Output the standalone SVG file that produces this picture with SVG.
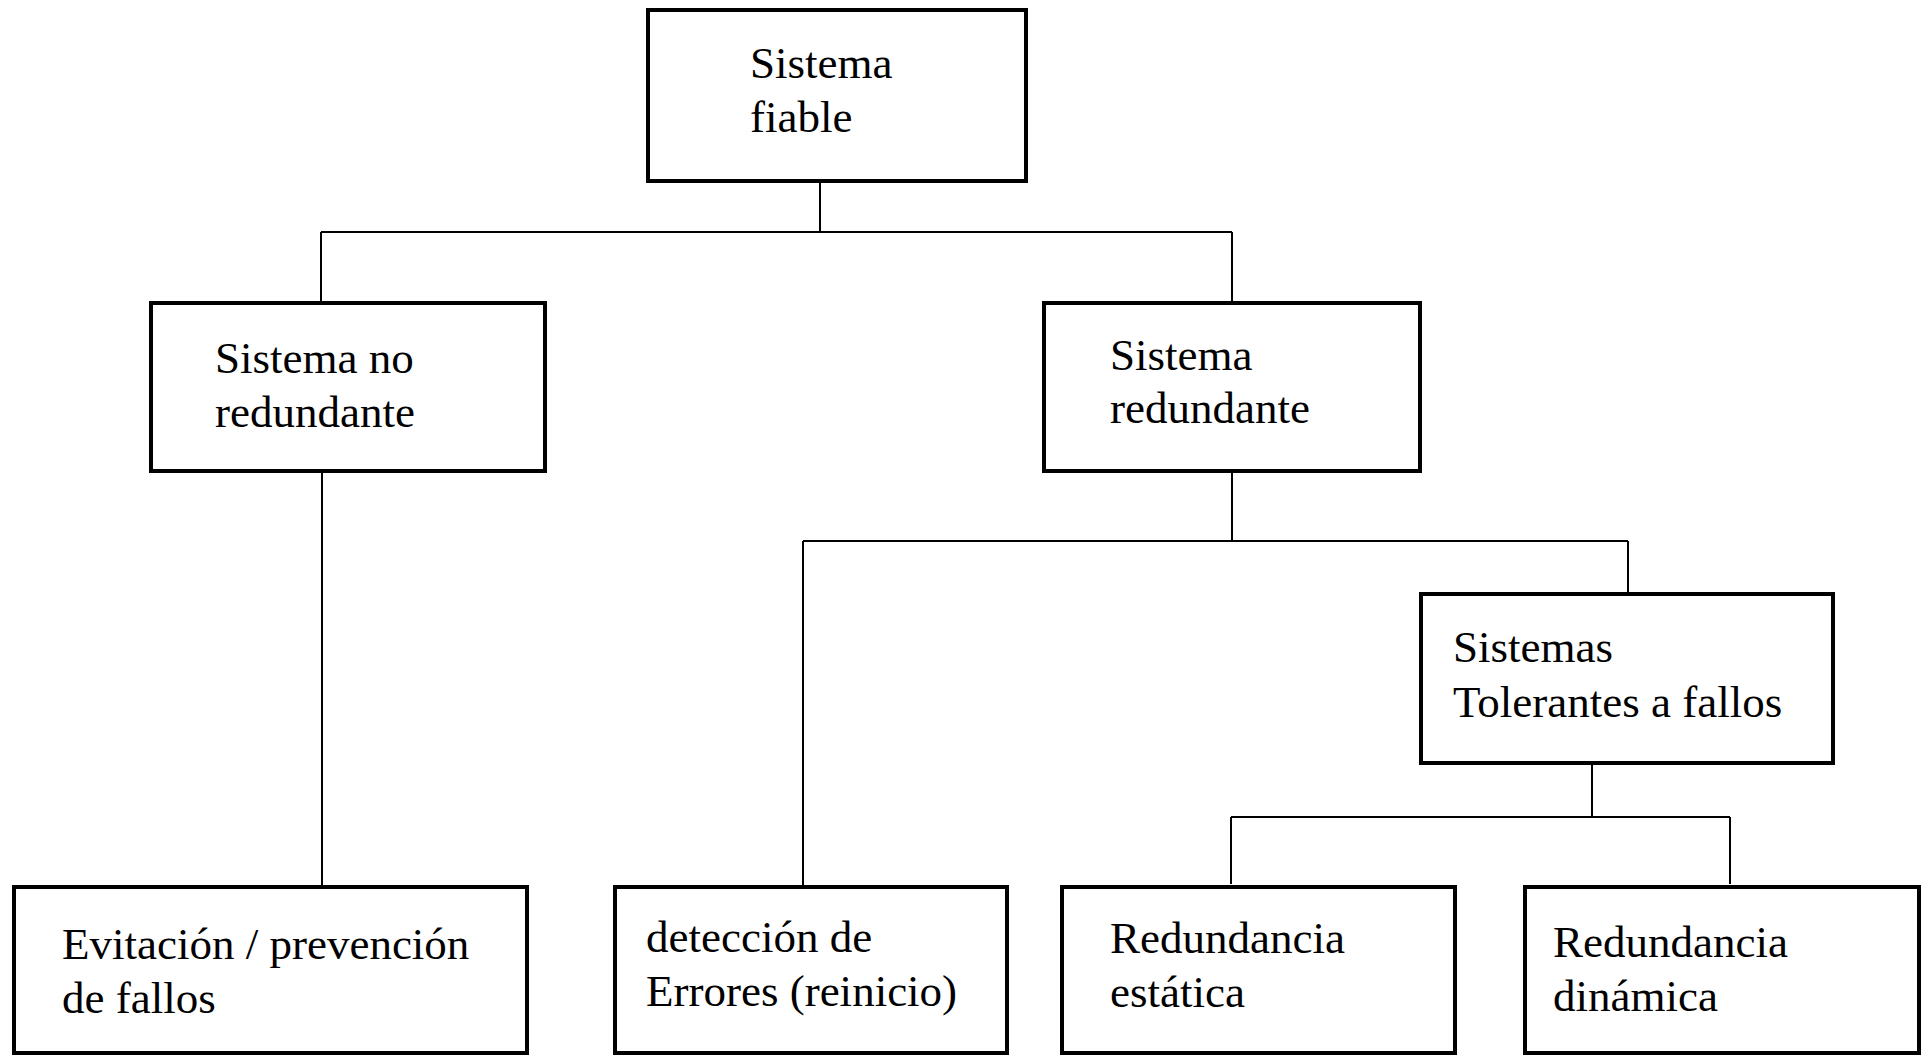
<svg xmlns="http://www.w3.org/2000/svg" width="1923" height="1056" viewBox="0 0 1923 1056">
  <style>
    .box { fill: #ffffff; stroke: #000000; stroke-width: 4; }
    .link { fill: none; stroke: #000000; stroke-width: 2; }
    .label { font-family: "Liberation Serif", "Times New Roman", serif; font-size: 45px; fill: #000000; }
  </style>
  <rect width="1923" height="1056" fill="#ffffff"/>

  <!-- tree connectors -->
  <g id="connectors">
    <path class="link" d="M820 183 V232 M321 232 H1232 M321 232 V301 M1232 232 V301"/>
    <path class="link" d="M322 473 V885"/>
    <path class="link" d="M1232 473 V541 M803 541 H1628 M803 541 V885 M1628 541 V592"/>
    <path class="link" d="M1592 765 V817 M1231 817 H1730 M1231 817 V884 M1730 817 V884"/>
  </g>

  <g id="sistema-fiable">
    <rect class="box" x="648" y="10" width="378" height="171"/>
    <text class="label" x="750" y="78">Sistema</text>
    <text class="label" x="750" y="132">fiable</text>
  </g>

  <g id="sistema-no-redundante">
    <rect class="box" x="151" y="303" width="394" height="168"/>
    <text class="label" x="215" y="373">Sistema no</text>
    <text class="label" x="215" y="427">redundante</text>
  </g>

  <g id="sistema-redundante">
    <rect class="box" x="1044" y="303" width="376" height="168"/>
    <text class="label" x="1110" y="370">Sistema</text>
    <text class="label" x="1110" y="423">redundante</text>
  </g>

  <g id="tolerantes-a-fallos">
    <rect class="box" x="1421" y="594" width="412" height="169"/>
    <text class="label" x="1453" y="662">Sistemas</text>
    <text class="label" x="1453" y="717">Tolerantes a fallos</text>
  </g>

  <g id="evitacion-prevencion">
    <rect class="box" x="14" y="887" width="513" height="166"/>
    <text class="label" x="62" y="959">Evitación / prevención</text>
    <text class="label" x="62" y="1013">de fallos</text>
  </g>

  <g id="deteccion-errores">
    <rect class="box" x="615" y="887" width="392" height="166"/>
    <text class="label" x="646" y="952">detección de</text>
    <text class="label" x="646" y="1006">Errores (reinicio)</text>
  </g>

  <g id="redundancia-estatica">
    <rect class="box" x="1062" y="887" width="393" height="166"/>
    <text class="label" x="1110" y="953">Redundancia</text>
    <text class="label" x="1110" y="1007">estática</text>
  </g>

  <g id="redundancia-dinamica">
    <rect class="box" x="1525" y="887" width="394" height="166"/>
    <text class="label" x="1553" y="957">Redundancia</text>
    <text class="label" x="1553" y="1011">dinámica</text>
  </g>
</svg>
